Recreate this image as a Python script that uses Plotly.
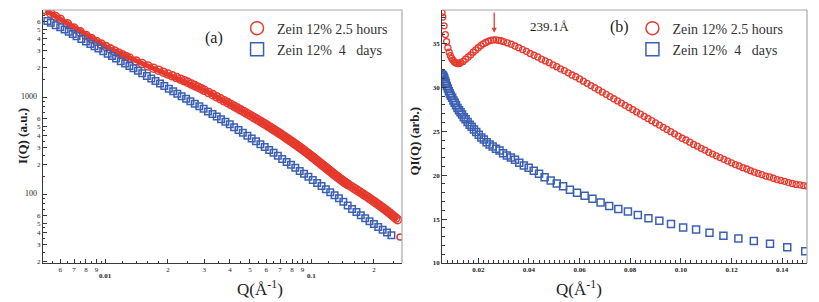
import math
import plotly.graph_objects as go

# ---------------- data ----------------
# Zein 12% 2.5 hours : Q (1/Å) and Q*I(Q)
q_red = [0.0051, 0.0054, 0.0057, 0.0060, 0.0065, 0.0070, 0.0075, 0.0080, 0.0085, 0.0090,
         0.0095, 0.0100, 0.0105, 0.0110, 0.0115, 0.0120, 0.0125, 0.0130, 0.0140, 0.0150,
         0.0160, 0.0170, 0.0180, 0.0190, 0.0200, 0.0210, 0.0220, 0.0230, 0.0240, 0.0250,
         0.0260, 0.0270, 0.0280, 0.0290, 0.0300, 0.0315, 0.0330, 0.0345, 0.0360, 0.0375,
         0.0390, 0.0405, 0.0420, 0.0435, 0.0450, 0.0465, 0.0480, 0.0495, 0.0510, 0.0525,
         0.0540, 0.0555, 0.0570, 0.0585, 0.0600, 0.0615, 0.0630, 0.0645, 0.0660, 0.0675,
         0.0690, 0.0705, 0.0720, 0.0735, 0.0750, 0.0765, 0.0780, 0.0795, 0.0810, 0.0825,
         0.0840, 0.0855, 0.0870, 0.0885, 0.0900, 0.0915, 0.0930, 0.0945, 0.0960, 0.0975,
         0.0990, 0.1005, 0.1020, 0.1035, 0.1050, 0.1065, 0.1080, 0.1095, 0.1110, 0.1125,
         0.1140, 0.1155, 0.1170, 0.1185, 0.1200, 0.1215, 0.1230, 0.1245, 0.1260, 0.1275,
         0.1290, 0.1305, 0.1320, 0.1335, 0.1350, 0.1365, 0.1380, 0.1395, 0.1410, 0.1425,
         0.1440, 0.1455, 0.1470, 0.1485, 0.1500]
qi_red = [40.0, 39.3, 38.5, 38.0, 37.0, 36.0, 35.2, 34.5, 34.0, 33.6,
          33.3, 33.1, 32.9, 32.8, 32.75, 32.7, 32.72, 32.8, 32.95, 33.2,
          33.45, 33.7, 34.0, 34.25, 34.5, 34.75, 34.95, 35.1, 35.25, 35.35,
          35.4, 35.4, 35.35, 35.3, 35.2, 35.05, 34.9, 34.7, 34.5, 34.3,
          34.1, 33.85, 33.65, 33.45, 33.2, 33.0, 32.8, 32.55, 32.35, 32.1,
          31.9, 31.65, 31.4, 31.2, 30.95, 30.7, 30.45, 30.2, 29.95, 29.7,
          29.45, 29.2, 28.95, 28.7, 28.45, 28.2, 27.95, 27.7, 27.45, 27.2,
          26.95, 26.7, 26.45, 26.2, 25.95, 25.7, 25.45, 25.2, 24.95, 24.7,
          24.45, 24.2, 24.0, 23.75, 23.5, 23.3, 23.05, 22.85, 22.6, 22.4,
          22.2, 22.0, 21.8, 21.6, 21.4, 21.2, 21.05, 20.85, 20.7, 20.5,
          20.35, 20.2, 20.05, 19.9, 19.8, 19.65, 19.5, 19.4, 19.3, 19.15,
          19.05, 18.95, 18.9, 18.8, 18.75]
# continuation beyond the right panel (visible on the log-log panel only)
q_red_ext = [0.155, 0.160, 0.165, 0.170, 0.175, 0.180, 0.185, 0.190, 0.195, 0.200, 0.205,
             0.210, 0.215, 0.220, 0.225, 0.230, 0.235, 0.240, 0.245, 0.250, 0.255, 0.260]
qi_red_ext = [18.55, 18.35, 18.15, 17.95, 17.75, 17.55, 17.35, 17.15, 16.95, 16.75, 16.55,
              16.35, 16.15, 15.95, 15.75, 15.55, 15.3, 15.1, 14.85, 14.6, 14.4, 14.15]
q_red_last, i_red_last = 0.2675, 36.0

# Zein 12% 4 days : Q (1/Å) and Q*I(Q)
q_blue = [0.0052, 0.0054, 0.0057, 0.0060, 0.0063, 0.0066, 0.0069, 0.0072, 0.0076, 0.0080,
          0.0084, 0.0088, 0.0092, 0.0097, 0.0102, 0.0107, 0.0112, 0.0118, 0.0124, 0.0130,
          0.0136, 0.0143, 0.0150, 0.0158, 0.0166, 0.0174, 0.0183, 0.0192, 0.0202, 0.0212,
          0.0222, 0.0233, 0.0245, 0.0257, 0.0270, 0.0284, 0.0298, 0.0313, 0.0329, 0.0345,
          0.0362, 0.0380, 0.0399, 0.0419, 0.0440, 0.0462, 0.0486, 0.0510, 0.0535, 0.0562,
          0.0590, 0.0620, 0.0651, 0.0683, 0.0717, 0.0753, 0.0791, 0.0830, 0.0872, 0.0915,
          0.0961, 0.1009, 0.1060, 0.1113, 0.1168, 0.1227, 0.1288, 0.1352, 0.1420, 0.1491,
          0.1566, 0.1644, 0.1726, 0.1812, 0.1903, 0.1998, 0.2098, 0.2203, 0.2313, 0.2429]
qi_blue = [31.6, 31.5, 31.4, 31.35, 31.2, 31.0, 30.75, 30.5, 30.15, 29.85,
           29.55, 29.3, 29.05, 28.8, 28.5, 28.25, 27.95, 27.65, 27.4, 27.15,
           26.9, 26.6, 26.35, 26.05, 25.75, 25.5, 25.2, 24.9, 24.6, 24.3,
           24.05, 23.75, 23.5, 23.25, 23.0, 22.8, 22.5, 22.25, 22.0, 21.75,
           21.4, 21.1, 20.85, 20.5, 20.15, 19.75, 19.4, 19.05, 18.75, 18.35,
           18.0, 17.65, 17.3, 16.9, 16.5, 16.15, 15.85, 15.45, 15.1, 14.8,
           14.45, 14.05, 13.8, 13.45, 13.1, 12.8, 12.5, 12.2, 11.8, 11.35,
           11.0, 10.7, 10.45, 10.2, 10.0, 9.8, 9.6, 9.45, 9.3, 9.15]
q_blue_last, i_blue_last = 0.2700, 19.0

# tick labels
x_log_ticks = [0.006, 0.007, 0.008, 0.009, 0.01, 0.02, 0.03, 0.04, 0.05, 0.06, 0.07, 0.08, 0.09, 0.1, 0.2]
x_log_major = [0.01, 0.1]
y_log_ticks = [20, 30, 40, 50, 60, 100, 200, 300, 400, 500, 600, 1000, 2000, 3000, 4000, 5000, 6000]
x_lin_ticks = [0.02, 0.04, 0.06, 0.08, 0.10, 0.12, 0.14]
y_lin_ticks = [10, 15, 20, 25, 30, 35]

label_a = "(a)"
label_b = "(b)"
peak_q = 0.0263
peak_text = "239.1Å"
name_red = "Zein 12% 2.5 hours"
name_blue = "Zein 12%\u00a0 4 \u00a0\u00a0days"

# ---------------- styling ----------------
RED = "#e63a2e"
BLUE = "#3b60b3"
SERIF = "Liberation Serif"
AX = "#3a3a3a"
FRAME = "#a8a8a8"
TXT = "#222222"

def digit_label(v):
    s = f"{v:g}"
    if s in ("0.01", "0.1", "100", "1000"):
        return None
    return s.replace("0", "").replace(".", "")[:1]

xt_text = []
for v in x_log_ticks:
    d = digit_label(v)
    xt_text.append(d if d else " ")
yt_text = []
for v in y_log_ticks:
    d = digit_label(v)
    yt_text.append(d if d else f"<span style='font-size:8px'>{v:g}</span>\u00a0\u00a0")

q_left_red = q_red + q_red_ext
i_left_red = [qi / q for q, qi in zip(q_red + q_red_ext, qi_red + qi_red_ext)]
i_left_blue = [qi / q for q, qi in zip(q_blue, qi_blue)]

fig = go.Figure()

# left panel (log-log I(Q))
fig.add_trace(go.Scatter(x=q_left_red, y=i_left_red, mode="lines+markers",
                         line=dict(color=RED, width=5),
                         marker=dict(symbol="circle-open", size=8, color=RED, line=dict(width=1.6)),
                         xaxis="x", yaxis="y", showlegend=False))
fig.add_trace(go.Scatter(x=[q_red_last], y=[i_red_last], mode="markers",
                         marker=dict(symbol="circle-open", size=6, color=RED, line=dict(width=1.5)),
                         xaxis="x", yaxis="y", showlegend=False))
fig.add_trace(go.Scatter(x=q_blue + [q_blue_last], y=i_left_blue + [i_blue_last], mode="markers",
                         marker=dict(symbol="square-open", size=6.5, color=BLUE, line=dict(width=1.5)),
                         xaxis="x", yaxis="y", showlegend=False, cliponaxis=False))

# right panel (Q*I(Q) linear)
fig.add_trace(go.Scatter(x=q_red, y=qi_red, mode="markers",
                         marker=dict(symbol="circle-open", size=6, color=RED, line=dict(width=1.3)),
                         xaxis="x2", yaxis="y2", showlegend=False))
fig.add_trace(go.Scatter(x=q_blue, y=qi_blue, mode="markers",
                         marker=dict(symbol="square-open", size=7, color=BLUE, line=dict(width=1.5)),
                         xaxis="x2", yaxis="y2", showlegend=False))

# legend entries
for leg, xa, ya in (("legend", "x", "y"), ("legend2", "x2", "y2")):
    fig.add_trace(go.Scatter(x=[None], y=[None], mode="markers", name=name_red,
                             marker=dict(symbol="circle-open", size=13, color=RED, line=dict(width=1.5)),
                             xaxis=xa, yaxis=ya, legend=leg))
    fig.add_trace(go.Scatter(x=[None], y=[None], mode="markers", name=name_blue,
                             marker=dict(symbol="square-open", size=13, color=BLUE, line=dict(width=1.5)),
                             xaxis=xa, yaxis=ya, legend=leg))

tickfont = dict(family=SERIF, size=7, color=TXT)
common = dict(showline=True, linecolor=AX, linewidth=1, ticks="inside", tickcolor=AX,
              showgrid=False, zeroline=False, tickfont=tickfont, tickangle=0)

fig.update_layout(
    width=819, height=302,
    margin=dict(l=43, r=12, t=10, b=39),
    paper_bgcolor="white", plot_bgcolor="white",
    font=dict(family=SERIF, color=TXT),
    xaxis=dict(domain=[0, 0.4699], type="log", range=[-2.3054, -0.5630],
               tickvals=x_log_ticks, ticktext=xt_text, ticklen=4,
               minor=dict(ticks="inside", ticklen=2, tickcolor=AX,
                          tickvals=[0.0055, 0.0065, 0.0075, 0.0085, 0.0095, 0.012, 0.014, 0.016, 0.018,
                                    0.025, 0.035, 0.045, 0.055, 0.065, 0.075, 0.085, 0.095,
                                    0.12, 0.14, 0.16, 0.18, 0.25]),
               anchor="y", **common),
    yaxis=dict(domain=[0, 1], type="log", range=[1.289, 3.897],
               tickvals=y_log_ticks, ticktext=yt_text, ticklen=4,
               minor=dict(ticks="inside", ticklen=2, tickcolor=AX,
                          tickvals=[25, 35, 45, 70, 80, 90, 150, 250, 350, 450, 700, 800, 900,
                                    1500, 2500, 3500, 4500, 7000]),
               anchor="x", **common),
    xaxis2=dict(domain=[0.5223, 1], range=[0.0057, 0.1498],
                tickvals=x_lin_ticks, ticktext=[f"<b>{v:.2f}</b>" for v in x_lin_ticks], ticklen=5,
                minor=dict(ticks="inside", ticklen=3, tickcolor=AX, dtick=0.002),
                anchor="y2", **common),
    yaxis2=dict(domain=[0, 1], range=[10, 38.8],
                tickvals=y_lin_ticks, ticktext=[f"<b>{v}</b>" for v in y_lin_ticks], ticklen=5,
                minor=dict(ticks="inside", ticklen=3, tickcolor=AX, dtick=1),
                anchor="x2", **common),
    legend=dict(x=0.254, y=0.99, xanchor="left", yanchor="top", bgcolor="rgba(0,0,0,0)",
                font=dict(family=SERIF, size=14, color="#333"), itemwidth=30,
                tracegroupgap=0),
    legend2=dict(x=0.7715, y=0.99, xanchor="left", yanchor="top", bgcolor="rgba(0,0,0,0)",
                 font=dict(family=SERIF, size=14, color="#333"), itemwidth=30,
                 tracegroupgap=0),
)

# grey frame on top and right of each panel
for xr, yr in (("x domain", "y domain"), ("x2 domain", "y2 domain")):
    fig.add_shape(type="line", xref=xr, yref=yr, x0=0, x1=1, y0=1, y1=1,
                  line=dict(color=FRAME, width=1.2))
    fig.add_shape(type="line", xref=xr, yref=yr, x0=1, x1=1, y0=0, y1=1,
                  line=dict(color=FRAME, width=1.2))

# decade labels of the log x axis, set a little below the digit labels
for v in x_log_major:
    fig.add_annotation(text=f"<b>{v:g}</b>", x=math.log10(v), xref="x", y=-0.05, yref="paper",
                       yanchor="middle", showarrow=False, font=dict(family=SERIF, size=7, color=TXT))

# panel labels and annotations
fig.add_annotation(text=label_a, x=0.2094, y=0.933, xref="paper", yref="paper",
                   showarrow=False, font=dict(family=SERIF, size=16, color=TXT))
fig.add_annotation(text=label_b, x=0.0757, y=36.9, xref="x2", yref="y2",
                   showarrow=False, font=dict(family=SERIF, size=16, color=TXT))
fig.add_annotation(text=peak_text, x=0.048, y=36.9, xref="x2", yref="y2",
                   showarrow=False, font=dict(family=SERIF, size=13, color=TXT))
fig.add_annotation(x=peak_q, y=36.2, ax=peak_q, ay=38.7, xref="x2", yref="y2",
                   axref="x2", ayref="y2", text="", showarrow=True,
                   arrowhead=2, arrowsize=0.8, arrowwidth=1.3, arrowcolor=RED)

# axis titles
fig.add_annotation(text="Q(Å<sup>-1</sup>)", x=(235 - 43) / 764, y=-0.099, xref="paper", yref="paper",
                   yanchor="middle", showarrow=False, font=dict(family=SERIF, size=17, color=TXT))
fig.add_annotation(text="Q(Å<sup>-1</sup>)", x=(604 - 43) / 764, y=-0.099, xref="paper", yref="paper",
                   yanchor="middle", showarrow=False, font=dict(family=SERIF, size=17, color=TXT))
fig.add_annotation(text="<b>I(Q) (a.u.)</b>", x=(13 - 43) / 764, y=0.5, xref="paper", yref="paper",
                   textangle=-90, showarrow=False, font=dict(family=SERIF, size=13, color=TXT))
fig.add_annotation(text="<b>QI(Q) (arb.)</b>", x=(415 - 43) / 764, y=0.48, xref="paper", yref="paper",
                   textangle=-90, showarrow=False, font=dict(family=SERIF, size=13, color=TXT))

fig.write_html("out.html", config={"displayModeBar": False},
               post_script="document.body.style.margin='0';")
